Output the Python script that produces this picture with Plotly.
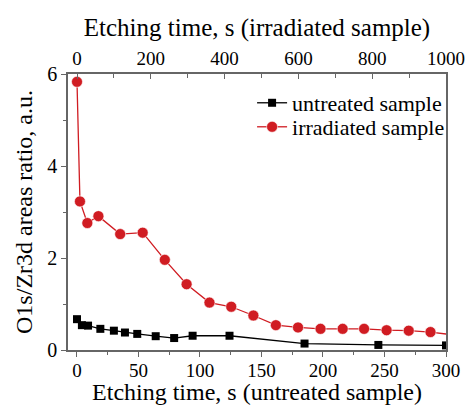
import plotly.graph_objects as go

# untreated sample (bottom axis, s)
untreated_t = [0, 4, 9, 19, 30, 39, 49, 64, 79, 94, 124, 185, 245, 300]
untreated_v = [0.67, 0.54, 0.53, 0.46, 0.42, 0.38, 0.35, 0.30, 0.26, 0.31, 0.31, 0.14, 0.11, 0.10]

# irradiated sample (top axis, s)
irradiated_t = [0, 8, 28, 58, 117, 178, 238, 297, 359, 418, 478, 539, 599, 660, 720, 778, 839, 899, 958, 1018]
irradiated_v = [5.83, 3.23, 2.76, 2.91, 2.52, 2.55, 1.96, 1.43, 1.03, 0.94, 0.75, 0.54, 0.49, 0.46, 0.46, 0.46, 0.43, 0.42, 0.39, 0.33]

FONT = "Liberation Serif"
RED = "#d01c22"
AX = "#666666"

fig = go.Figure()
fig.add_trace(go.Scatter(
    x=untreated_t, y=untreated_v, mode="lines+markers", name="untreated sample",
    line=dict(color="black", width=1.3),
    marker=dict(symbol="square", size=8, color="black"),
    xaxis="x", yaxis="y", legend="legend"))
fig.add_trace(go.Scatter(
    x=irradiated_t, y=irradiated_v, mode="lines+markers", name="irradiated sample",
    line=dict(color=RED, width=1.3),
    marker=dict(symbol="circle", size=11, color=RED, line=dict(color="white", width=0.6)),
    xaxis="x2", yaxis="y", legend="legend2"))

leg_common = dict(xanchor="left", x=0.487, yanchor="middle",
                  bgcolor="rgba(0,0,0,0)", font=dict(family=FONT, size=22),
                  itemwidth=30)

fig.update_layout(
    width=467, height=405,
    margin=dict(l=68, r=21, t=74, b=55, autoexpand=False),
    paper_bgcolor="white", plot_bgcolor="white",
    font=dict(family=FONT, size=20, color="black"),
    showlegend=True,
    legend=dict(y=0.895, **leg_common),
    legend2=dict(y=0.808, **leg_common),
    xaxis=dict(
        range=[-7.3, 300], tickvals=[0, 50, 100, 150, 200, 250, 300], automargin=False,
        ticks="outside", ticklen=5, tickcolor=AX, tickfont=dict(family=FONT, size=19),
        ticklabelstandoff=-3,
        minor=dict(tickvals=[25, 75, 125, 175, 225, 275], ticks="outside", ticklen=3, tickcolor=AX),
        showline=True, linecolor=AX, linewidth=1.5, showgrid=False, zeroline=False,
        title=dict(text="Etching time, s (untreated sample)", font=dict(family=FONT, size=24), standoff=5)),
    xaxis2=dict(
        range=[-24.4, 1000], overlaying="x", side="top", automargin=False,
        tickvals=[0, 200, 400, 600, 800, 1000],
        ticks="inside", ticklen=5, tickcolor=AX, tickfont=dict(family=FONT, size=19),
        minor=dict(tickvals=[100, 300, 500, 700, 900], ticks="inside", ticklen=4, tickcolor=AX),
        showline=True, linecolor=AX, linewidth=1.5, showgrid=False, zeroline=False,
        title=dict(text="Etching time, s (irradiated sample)", font=dict(family=FONT, size=25), standoff=4)),
    yaxis=dict(
        range=[0, 6], tickvals=[0, 2, 4, 6], automargin=False,
        ticks="outside", ticklen=5, tickcolor=AX, tickfont=dict(family=FONT, size=20),
        minor=dict(tickvals=[1, 3, 5], ticks="outside", ticklen=3, tickcolor=AX),
        showline=True, linecolor=AX, linewidth=1.5, mirror=True,
        showgrid=False, zeroline=False,
        title=dict(text="O1s/Zr3d areas ratio, a.u.", font=dict(family=FONT, size=24), standoff=8)),
)

fig.write_html("out.html")
